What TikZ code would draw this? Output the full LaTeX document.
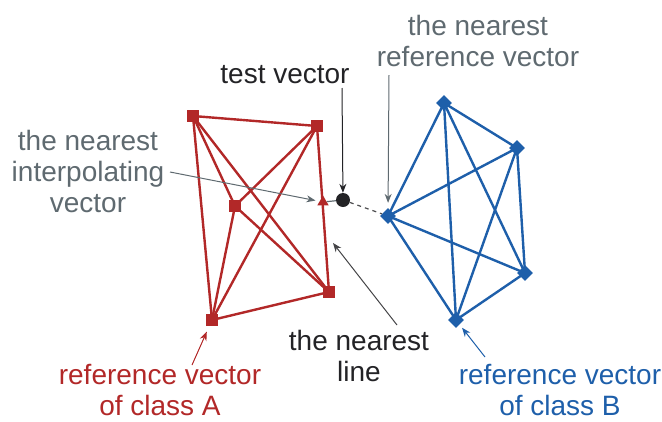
\documentclass[tikz,border=0pt]{standalone}
\usepackage{fontspec}
\setmainfont{Liberation Sans}
\usetikzlibrary{arrows.meta}
\usetikzlibrary{shapes.geometric}
\definecolor{clsA}{RGB}{178,40,40}
\definecolor{clsB}{RGB}{30,95,170}
\definecolor{lblgray}{RGB}{95,106,112}
\definecolor{lbldark}{RGB}{35,35,38}

\begin{document}
\begin{tikzpicture}[x=1pt,y=-1pt,
  sqA/.style={fill=clsA,minimum size=12pt,inner sep=0pt},
  dmB/.style={diamond,fill=clsB,minimum size=16pt,inner sep=0pt},
  lbl/.style={inner sep=0pt,align=center,font=\fontsize{28}{31}\selectfont},
  tip/.style={-{Stealth[length=9pt,width=7pt]}}]
\useasboundingbox (0,0) rectangle (662,421);

% class A
\node (a1) [sqA] at (193,116) {};
\node (a2) [sqA] at (317,126) {};
\node (a3) [sqA] at (235,206) {};
\node (a4) [sqA] at (329,292) {};
\node (a5) [sqA] at (212,320) {};
\foreach \p/\q in {a1/a2,a1/a3,a1/a4,a1/a5,a2/a3,a2/a4,a2/a5,a3/a4,a3/a5,a4/a5}
  \draw [clsA,line width=2.4pt] (\p.center) -- (\q.center);
\node (tri) [regular polygon,regular polygon sides=3,fill=clsA,minimum size=13pt,inner sep=0pt] at (323,202) {};

% class B
\node (b1) [dmB] at (444,103) {};
\node (b2) [dmB] at (517,148) {};
\node (b3) [dmB] at (388,216) {};
\node (b4) [dmB] at (525,273) {};
\node (b5) [dmB] at (456,320) {};
\foreach \p/\q in {b1/b2,b1/b3,b1/b4,b1/b5,b2/b3,b2/b4,b2/b5,b3/b4,b3/b5,b4/b5}
  \draw [clsB,line width=2.4pt] (\p.center) -- (\q.center);

% test vector
\node (tv) [circle,fill=lbldark,minimum size=14pt,inner sep=0pt] at (343,200) {};
\draw [lblgray,line width=1.2pt] (tri) -- (tv);
\draw [lbldark!80,line width=1.2pt,dash pattern=on 4pt off 4pt] (tv) -- (b3);

% labels
\node (ltest) [lbl,anchor=base,text=lbldark] at (285,83) {test vector};
\node (lref) [lbl,anchor=north,text=lblgray] at (478,15) {the nearest\\reference vector};
\node (linterp) [lbl,anchor=north,text=lblgray] at (88,130) {the nearest\\interpolating\\vector};
\node (lline) [lbl,anchor=north,text=lbldark] at (359,330) {the nearest\\line};
\node (lA) [lbl,anchor=north,text=clsA] at (160,364) {reference vector\\of class A};
\node (lB) [lbl,anchor=north,text=clsB] at (560,364) {reference vector\\of class B};

\coordinate (ctest) at (342,88);
\coordinate (cref) at (389,75);
\coordinate (cinterp) at (170,172);
\coordinate (cline) at (397,325);
\coordinate (nline) at (333,243);
\coordinate (cA) at (192,365);
\coordinate (cB) at (485,357);

\draw [tip,lbldark,line width=1pt] (ctest) -- (tv);
\draw [tip,lblgray,line width=1pt,shorten >=5pt] (cref) -- (b3);
\draw [tip,lblgray,line width=1pt,shorten >=4pt] (cinterp) -- (tri);
\draw [tip,lbldark!85,line width=1pt] (cline) -- (nline);
\draw [tip,clsA,line width=1pt,shorten >=6pt] (cA) -- (a5);
\draw [tip,clsB,line width=1pt,shorten >=4pt] (cB) -- (b5);
\end{tikzpicture}
\end{document}
